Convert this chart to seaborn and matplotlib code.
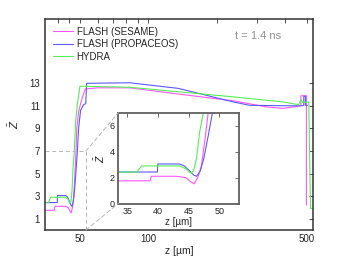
import pandas as pd
import matplotlib.pyplot as plt
import seaborn as sns
import numpy as np
from matplotlib.patches import ConnectionPatch


# FLASH (SESAME)
z_sesame = [33.0, 38.7, 38.9, 43.0, 44.5, 45.3, 45.9, 46.5, 47.1, 47.8, 48.2, 48.6, 49.5,
            50.5, 51.5, 53.0, 60.0, 83.0, 136.0, 237.0, 334.0, 393.0, 467.0, 470.0,
            470.0, 496.0, 497.0, 497.0]
Z_sesame = [1.75, 1.75, 2.1, 2.1, 2.0, 1.7, 1.52, 2.0, 2.9, 5.4, 7.0, 9.0, 10.5,
            11.2, 11.8, 12.5, 12.6, 12.6, 12.05, 11.45, 10.9, 10.78, 11.0, 11.05,
            11.9, 11.9, 11.9, 2.2]

# FLASH (PROPACEOS)
z_propa = [33.0, 39.9, 39.95, 43.5, 44.3, 45.2, 45.8, 46.3, 46.9, 47.5, 48.2, 48.9,
           49.5, 50.5, 52.0, 53.2, 53.7, 83.0, 136.0, 237.0, 280.0, 467.0, 484.0,
           484.0, 492.0, 492.0, 503.0]
Z_propa = [2.43, 2.43, 3.05, 3.05, 2.9, 2.5, 2.2, 2.1, 2.5, 3.5, 5.2, 7.0,
           9.0, 10.6, 11.1, 11.2, 13.0, 13.05, 12.55, 11.35, 11.05, 11.0, 11.05,
           11.85, 11.85, 11.05, 11.05]

# HYDRA
z_hydra = [33.0, 36.5, 37.3, 43.5, 44.5, 45.3, 45.8, 46.3, 46.8, 47.4, 48.0, 48.7,
           50.2, 83.0, 136.0, 237.0, 393.0, 460.0, 470.0, 478.0, 509.0, 518.0, 540.0]
Z_hydra = [2.42, 2.42, 2.9, 2.9, 2.7, 2.35, 2.5, 3.5, 5.5, 7.0, 9.5, 10.9,
           12.75, 12.65, 12.25, 11.8, 11.35, 11.1, 11.55, 11.3, 11.35, 1.9, 1.9]

labels = ["FLASH (SESAME)", "FLASH (PROPACEOS)", "HYDRA"]
colors = ["#ff55ff", "#5a5aff", "#55ee55"]

df = pd.concat([
    pd.DataFrame({"z": z_sesame, "Z": Z_sesame, "code": labels[0]}),
    pd.DataFrame({"z": z_propa, "Z": Z_propa, "code": labels[1]}),
    pd.DataFrame({"z": z_hydra, "Z": Z_hydra, "code": labels[2]}),
], ignore_index=True)

sns.set_style("white")
plt.rcParams["font.family"] = ["Liberation Sans", "DejaVu Sans"]
plt.rcParams["mathtext.fontset"] = "custom"
plt.rcParams["mathtext.it"] = "Liberation Sans:italic"
plt.rcParams["mathtext.rm"] = "Liberation Sans"

fig = plt.figure(figsize=(3.46, 2.6), dpi=100)
ax = fig.add_axes([0.1315, 0.1154, 0.774, 0.8115])

pal = dict(zip(labels, colors))
sns.lineplot(data=df, x="z", y="Z", hue="code", palette=pal, estimator=None,
             sort=False, lw=0.8, legend=False, ax=ax)

ax.set_xscale("log")
ax.set_xlim(35.4, 533)
ax.set_ylim(0, 18.7)
ax.set_xticks([50, 100, 500])
ax.set_xticklabels(["50", "100", "500"])
ax.set_xticks([40, 45, 60, 70, 80, 90, 200, 300, 400], minor=True)
ax.set_yticks([1, 3, 5, 7, 9, 11, 13])
ax.tick_params(which="both", direction="in", length=3, width=0.6, color="#333333",
               top=True, right=True, labelsize=7, colors="#222222")
ax.tick_params(axis="x", which="minor", labelbottom=False)
ax.tick_params(axis="y", pad=4)
ax.tick_params(axis="x", pad=3)
for s in ax.spines.values():
    s.set_color("#333333")
    s.set_linewidth(1.1)
ax.set_xlabel("z [µm]", fontsize=7.5, labelpad=1)
ax.set_ylabel(r"$\bar{Z}$", fontsize=8, labelpad=6)

# zoom box
zr = 53.3
ax.plot([35.4, zr], [7, 7], ls=(0, (4, 3)), color="#b5b5b5", lw=0.7)
ax.plot([zr, zr], [0, 7], ls=(0, (4, 3)), color="#b5b5b5", lw=0.7)

handles = [plt.Line2D([], [], color=c, lw=0.8) for c in colors]
ax.legend(handles, labels, loc="upper left", frameon=False, fontsize=7,
          handlelength=2.1, handletextpad=0.35, labelspacing=0.25,
          bbox_to_anchor=(-0.005, 1.005))
ax.text(0.88, 0.918, "t = 1.4 ns", transform=ax.transAxes, ha="right",
        va="center", fontsize=8, color="#909090")

# inset
axins = fig.add_axes([0.342, 0.2173, 0.3497, 0.349])
sns.lineplot(data=df, x="z", y="Z", hue="code", palette=pal, estimator=None,
             sort=False, lw=0.8, legend=False, ax=axins)
axins.set_xlim(33.5, 53.3)
axins.set_ylim(0, 7)
axins.set_xticks([35, 40, 45, 50])
axins.set_yticks([0, 2, 4, 6])
axins.tick_params(direction="in", length=3, width=0.6, color="#555555",
                  top=True, right=True, labelsize=6.5, pad=2.5, colors="#222222")
for s in axins.spines.values():
    s.set_color("#606060")
    s.set_linewidth(1.3)
axins.set_xlabel("z [µm]", fontsize=7, labelpad=0.5)
axins.set_ylabel(r"$\bar{Z}$", fontsize=7.5, labelpad=2)
axins.set_facecolor("white")

for ya in (7, 0):
    con = ConnectionPatch(xyA=(zr, ya), coordsA=ax.transData,
                          xyB=(33.5, ya), coordsB=axins.transData,
                          ls=(0, (4, 3)), color="#b5b5b5", lw=0.7)
    fig.add_artist(con)

fig.savefig("out.png", dpi=100)
